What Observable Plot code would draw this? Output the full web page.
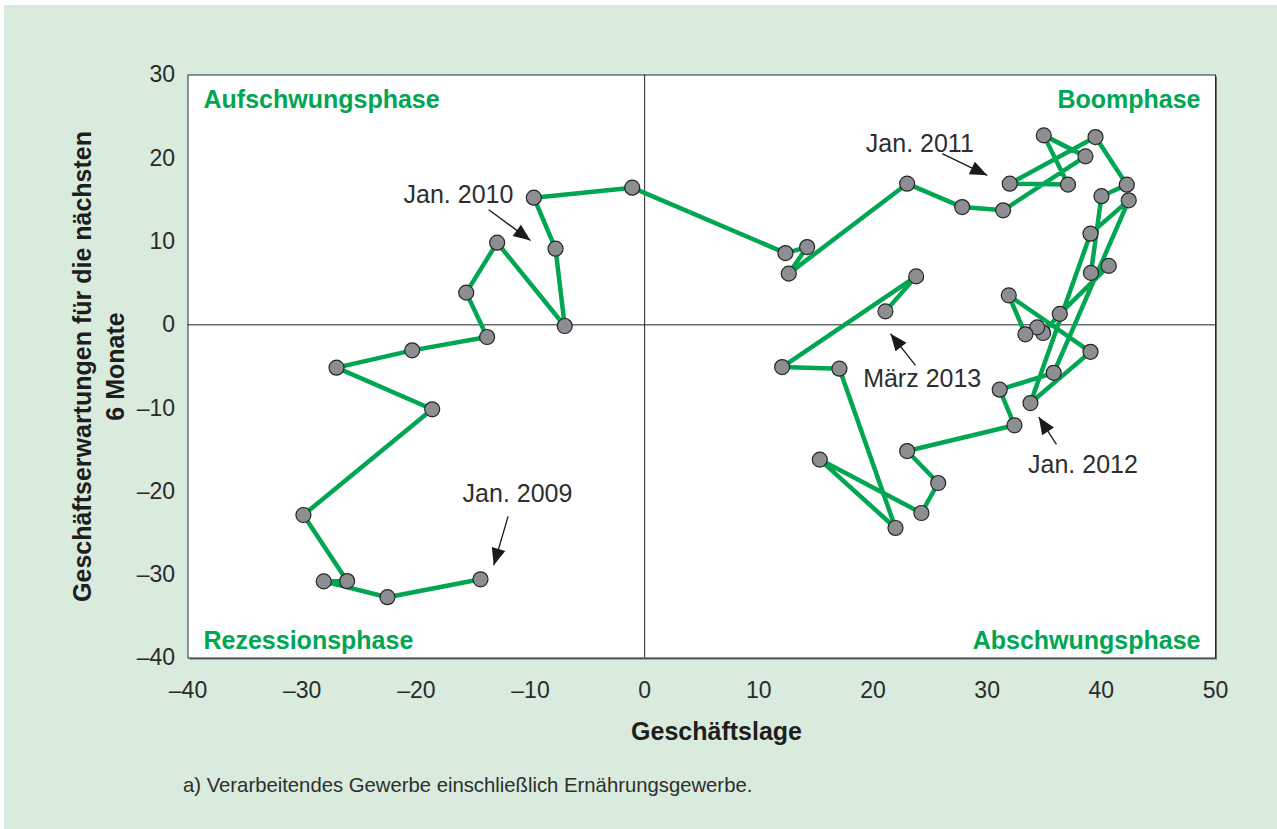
<!DOCTYPE html>
<html>
<head>
<meta charset="utf-8">
<script src="https://cdn.jsdelivr.net/npm/d3@7"></script>
<script src="https://cdn.jsdelivr.net/npm/@observablehq/plot@0.6"></script>
<style>
  html, body { margin: 0; padding: 0; background: #ffffff; }
  #panel { position: absolute; left: 4px; top: 5px; width: 1273px; height: 824px; background: #d8ebdd; font-family: "Liberation Sans", Arial, Helvetica, sans-serif; }
  #chart { position: absolute; left: 0; top: 0; }
  #caption { position: absolute; left: 179px; top: 769px; font-size: 20.3px; color: #2e2e2e; white-space: nowrap; }
</style>
</head>
<body>
<div id="panel">
  <div id="chart"></div>
  <div id="caption">a) Verarbeitendes Gewerbe einschließlich Ernährungsgewerbe.</div>
</div>
<script>
// Monthly values, Jan. 2009 – März 2013
const lage = [-14.38, -22.53, -28.11, -26.06, -29.89, -18.61, -26.99, -20.36, -13.80, -15.63, -12.92, -7.00, -7.81, -9.71, -1.09, 12.33, 14.23, 12.62, 22.99, 27.81, 31.40, 38.61, 34.96, 37.08, 31.98, 39.49, 42.23, 40.01, 39.09, 40.65, 36.36, 34.90, 34.38, 33.35, 31.89, 39.05, 33.79, 39.05, 42.40, 35.83, 31.10, 32.39, 22.99, 25.71, 24.24, 15.34, 21.97, 17.06, 12.04, 23.78, 21.09];
const erwartungen = [-30.55, -32.7, -30.8, -30.76, -22.83, -10.14, -5.14, -3.06, -1.46, 3.87, 9.87, -0.14, 9.15, 15.27, 16.47, 8.62, 9.34, 6.15, 16.95, 14.14, 13.75, 20.23, 22.75, 16.84, 16.95, 22.55, 16.83, 15.45, 6.24, 7.08, 1.32, -0.98, -0.30, -1.14, 3.54, -3.24, -9.39, 10.95, 14.95, -5.76, -7.78, -12.06, -15.15, -18.99, -22.59, -16.18, -24.39, -5.26, -5.07, 5.82, 1.62];

const xTicks = [-40, -30, -20, -10, 0, 10, 20, 30, 40, 50];
const yTicks = [-40, -30, -20, -10, 0, 10, 20, 30];

const quadrantLabels = ["Aufschwungsphase", "Boomphase", "Rezessionsphase", "Abschwungsphase"];
const xTitle = "Geschäftslage";
const yTitle = "Geschäftserwartungen für die nächsten\n6 Monate";

// Annotations (data coordinates)
const annoText = ["Jan. 2009", "Jan. 2010", "Jan. 2011", "Jan. 2012", "März 2013"];
const annoX = [-11.14, -16.31, 24.10, 38.39, 24.31];
const annoY = [-20.35, 15.55, 21.75, -16.87, -6.46];
const arrowX1 = [-11.96, -13.66, 26.06, 36.07, 23.72];
const arrowY1 = [-22.99, 13.83, 20.55, -14.35, -4.86];
const arrowX2 = [-13.22, -10.0, 30.0, 34.52, 21.53];
const arrowY2 = [-28.87, 10.14, 17.95, -11.07, -1.06];

const points = lage.map((v, i) => ({i, x: v, y: erwartungen[i]}));
const annos = annoText.map((t, i) => ({t, x: annoX[i], y: annoY[i], x1: arrowX1[i], y1: arrowY1[i], x2: arrowX2[i], y2: arrowY2[i]}));

const fmt = d => d < 0 ? "\u2013" + Math.abs(d) : String(d);
const green = "#00a651";

// Arrowhead symbol: tip at origin, pointing up
const arrowHead = {
  draw(context) {
    context.moveTo(0, 0);
    context.lineTo(7, 17);
    context.lineTo(-7, 17);
    context.closePath();
  }
};

function build(rot) {
  const headData = annos.map((a, i) => ({...a, rot: rot[i]}));
  return Plot.plot({
    width: 1273,
    height: 760,
    marginLeft: 183.5,
    marginRight: 62,
    marginTop: 69.5,
    marginBottom: 107.5,
    x: {domain: [-40, 50]},
    y: {domain: [-40, 30]},
    style: "background: transparent; color: #2a2a2a; font-family: 'Liberation Sans', Arial, Helvetica, sans-serif; overflow: visible;",
    marks: [
      Plot.frame({fill: "#6e6e6e", dx: 1.5, dy: 1.5}),
      Plot.frame({fill: "white", stroke: "#2b2b2b", strokeWidth: 1}),
      Plot.ruleX([0], {stroke: "#222", strokeWidth: 1}),
      Plot.ruleY([0], {stroke: "#222", strokeWidth: 1}),
      Plot.axisX({ticks: xTicks, tickSize: 0, tickPadding: 24, fontSize: 23, tickFormat: fmt, label: null}),
      Plot.axisY({ticks: yTicks, tickSize: 0, tickPadding: 13, fontSize: 23, tickFormat: fmt, label: null}),
      Plot.text([quadrantLabels[0]], {text: d => d, frameAnchor: "top-left", textAnchor: "start", lineAnchor: "middle", dx: 15.5, dy: 24.5, fontSize: 25, fontWeight: "bold", fill: green}),
      Plot.text([quadrantLabels[1]], {text: d => d, frameAnchor: "top-right", textAnchor: "end", lineAnchor: "middle", dx: -15, dy: 24.5, fontSize: 25, fontWeight: "bold", fill: green}),
      Plot.text([quadrantLabels[2]], {text: d => d, frameAnchor: "bottom-left", textAnchor: "start", lineAnchor: "middle", dx: 15.5, dy: -17.5, fontSize: 25, fontWeight: "bold", fill: green}),
      Plot.text([quadrantLabels[3]], {text: d => d, frameAnchor: "bottom-right", textAnchor: "end", lineAnchor: "middle", dx: -15, dy: -17.5, fontSize: 25, fontWeight: "bold", fill: green}),
      Plot.text([xTitle], {text: d => d, frameAnchor: "bottom", textAnchor: "middle", lineAnchor: "middle", dx: 14.75, dy: 73.5, fontSize: 25, fontWeight: "bold", fill: "#1e1e1e"}),
      Plot.text([yTitle], {text: d => d, frameAnchor: "left", textAnchor: "middle", lineAnchor: "middle", rotate: -90, dx: -91, lineHeight: 1.3, fontSize: 25, fontWeight: "bold", fill: "#1e1e1e"}),
      Plot.line(points, {x: "x", y: "y", stroke: green, strokeWidth: 4.5, strokeLinejoin: "round", strokeLinecap: "round"}),
      Plot.dot(points, {x: "x", y: "y", r: 7.5, fill: "#8d8e92", stroke: "#262626", strokeWidth: 1.2}),
      Plot.link(annos, {x1: "x1", y1: "y1", x2: "x2", y2: "y2", stroke: "#1a1a1a", strokeWidth: 1.3}),
      Plot.dot(headData, {x: "x2", y: "y2", symbol: arrowHead, r: 6, rotate: "rot", fill: "#1a1a1a", stroke: "none"}),
      Plot.text(annos, {x: "x", y: "y", text: "t", fontSize: 25, fill: "#2e2e2e", lineAnchor: "middle"})
    ]
  });
}

const first = build(annos.map(() => 0));
const sx = first.scale("x"), sy = first.scale("y");
const rot = annos.map(a => {
  const dx = sx.apply(a.x2) - sx.apply(a.x1);
  const dy = sy.apply(a.y2) - sy.apply(a.y1);
  return Math.atan2(dx, -dy) * 180 / Math.PI;
});
document.getElementById("chart").appendChild(build(rot));
</script>
</body>
</html>
